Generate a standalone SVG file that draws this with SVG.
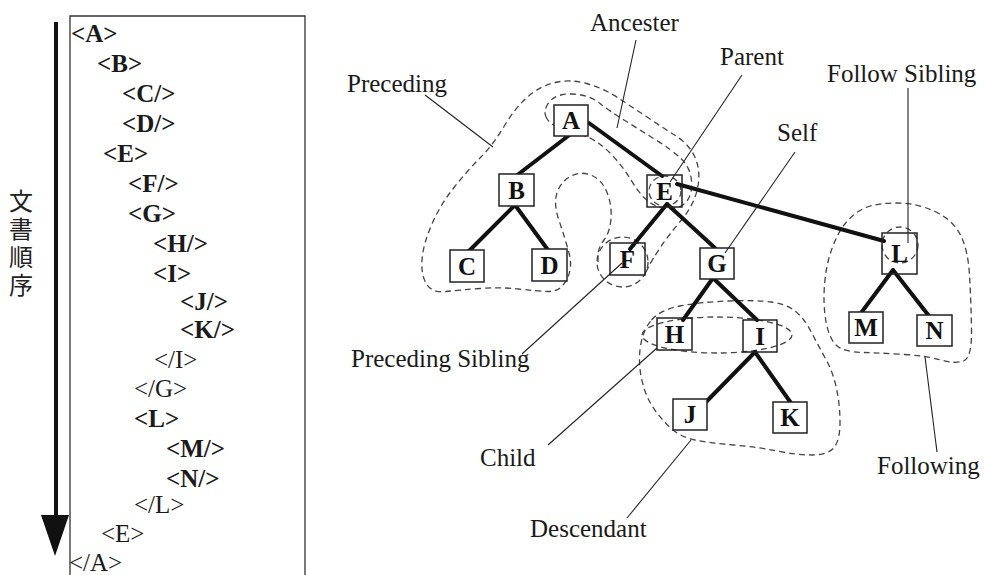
<svg xmlns="http://www.w3.org/2000/svg" width="984" height="575" viewBox="0 0 984 575">
  <style>
    .doc { font-family: "Liberation Serif", "Times New Roman", serif; font-size: 25px; fill: #1a1a1a; }
    .b { font-weight: bold; }
    .cjk { font-family: "Noto Sans CJK JP", "Noto Sans CJK SC", sans-serif; font-size: 24px; fill: #222; writing-mode: vertical-rl; letter-spacing: 4px; }
    .lbl { font-family: "Liberation Serif", "Times New Roman", serif; font-size: 25px; fill: #1a1a1a; }
    .box { fill: #fff; stroke: #222; stroke-width: 1.5; }
    .nt { font-family: "Liberation Serif", "Times New Roman", serif; font-size: 25px; font-weight: bold; fill: #111; text-anchor: middle; }
    .edge { stroke: #111; stroke-width: 4; stroke-linecap: round; fill: none; }
    .axis { fill: none; stroke: #444; stroke-width: 1.3; stroke-dasharray: 6 4; }
    .lead { stroke: #222; stroke-width: 1.1; fill: none; }
  </style>

  <!-- document order panel -->
  <g id="document-order">
    <path d="M70,575 V16 H305 V575" fill="none" stroke="#333" stroke-width="1.3"/>
    <line x1="56" y1="22" x2="56" y2="520" stroke="#111" stroke-width="4"/>
    <polygon points="41,515 69,515 55,556" fill="#111"/>
    <text class="cjk" x="21" y="189">文書順序</text>
    <text class="doc b" x="71" y="42">&lt;A&gt;</text>
    <text class="doc b" x="97" y="72">&lt;B&gt;</text>
    <text class="doc b" x="122" y="102">&lt;C/&gt;</text>
    <text class="doc b" x="122" y="132">&lt;D/&gt;</text>
    <text class="doc b" x="103" y="162">&lt;E&gt;</text>
    <text class="doc b" x="128" y="192">&lt;F/&gt;</text>
    <text class="doc b" x="128" y="222">&lt;G&gt;</text>
    <text class="doc b" x="153" y="252">&lt;H/&gt;</text>
    <text class="doc b" x="153" y="282">&lt;I&gt;</text>
    <text class="doc b" x="180" y="310">&lt;J/&gt;</text>
    <text class="doc b" x="180" y="338">&lt;K/&gt;</text>
    <text class="doc" x="154" y="368">&lt;/I&gt;</text>
    <text class="doc" x="134" y="397">&lt;/G&gt;</text>
    <text class="doc b" x="134" y="427">&lt;L&gt;</text>
    <text class="doc b" x="166" y="457">&lt;M/&gt;</text>
    <text class="doc b" x="166" y="487">&lt;N/&gt;</text>
    <text class="doc" x="134" y="513">&lt;/L&gt;</text>
    <text class="doc" x="101" y="542">&lt;E&gt;</text>
    <text class="doc" x="69" y="571">&lt;/A&gt;</text>
  </g>

  <!-- axis regions (dashed outlines) -->
  <g id="regions">
    <path id="preceding-region" class="axis" d="M598,262 L598,255 Q598,248 604,240 Q610,232 611,218.5 Q612,205 607,192.5 Q602,180 592,175.5 Q582,171 572,175.5 Q562,180 557.5,191.5 Q553,203 559,220.5 Q565,238 569,253 Q573,268 566.5,280 Q560,292 548.5,291.5 Q537,291 518.5,289 Q500,287 480,288.5 Q460,290 446,291.5 Q432,293 426.5,284 Q421,275 422,260 Q423,245 431.5,225 Q440,205 454,187.5 Q468,170 480.5,157.5 Q493,145 504,126.5 Q515,108 527.5,97 Q540,86 555,82.5 Q570,79 586.5,83.5 Q603,88 617.5,97.5 Q632,107 647,117 Q662,127 676,136 Q690,145 695.5,158.5 Q701,172 697.5,188.5 Q694,205 681,220.5 Q668,236 660,248 Q652,260 649,266 L646,272"/>
    <ellipse id="preceding-sibling-region" class="axis" cx="622.5" cy="262" rx="25.5" ry="25"/>
    <path id="ancestor-region" class="axis" d="M546.5,118 Q543,112 547.5,104.5 Q552,97 561,95 Q570,93 581,95 Q592,97 600,103.5 Q608,110 624,120 Q640,130 656,140 Q672,150 680.5,158 Q689,166 691,177 Q693,188 689.5,196.5 Q686,205 677,207.5 Q668,210 659,207 Q650,204 643.5,197 Q637,190 631,180 Q625,170 616.5,160 Q608,150 599,143.5 Q590,137 577.5,133.5 Q565,130 557.5,127 Q550,124 546.5,118 Z"/>
    <ellipse id="parent-region" class="axis" cx="665" cy="191" rx="16" ry="15"/>
    <ellipse id="child-region" class="axis" cx="717" cy="335" rx="75" ry="18"/>
    <path id="descendant-region" class="axis" d="M651.5,320 Q660,310 680,306 Q700,302 728.5,301 Q757,300 771.5,302 Q786,304 795,311 Q804,318 811,331.5 Q818,345 825.5,358.5 Q833,372 836.5,388.5 Q840,405 840,422.5 Q840,440 834,447.5 Q828,455 812.5,455 Q797,455 777,451 Q757,447 733.5,445 Q710,443 695,440 Q680,437 670,427.5 Q660,418 652.5,406.5 Q645,395 641.5,378.5 Q638,362 640.5,346 Q643,330 651.5,320 Z"/>
    <ellipse id="following-sibling-region" class="axis" cx="900" cy="245" rx="18" ry="18"/>
    <path id="following-region" class="axis" d="M866,207.5 Q877,203 897,203 Q917,203 935,211.5 Q953,220 960.5,235 Q968,250 969.5,275 Q971,300 971.5,329 Q972,358 963.5,361 Q955,364 941,360 Q927,356 905,354.5 Q883,353 863,352.5 Q843,352 836,345 Q829,338 826,321.5 Q823,305 824.5,285 Q826,265 832,248.5 Q838,232 846.5,222 Q855,212 866,207.5 Z"/>
  </g>

  <!-- tree edges -->
  <g id="connectors">
    <line class="edge" x1="572" y1="133" x2="516" y2="176"/>
    <line class="edge" x1="589" y1="123" x2="662" y2="176"/>
    <line class="edge" x1="515" y1="205" x2="469" y2="251"/>
    <line class="edge" x1="515" y1="205" x2="548" y2="250"/>
    <line class="edge" x1="667" y1="204" x2="630" y2="249"/>
    <line class="edge" x1="667" y1="204" x2="715" y2="248"/>
    <line class="edge" x1="677" y1="184" x2="884" y2="241"/>
    <line class="edge" x1="713" y1="278" x2="683" y2="320"/>
    <line class="edge" x1="713" y1="278" x2="757" y2="320"/>
    <line class="edge" x1="755" y1="352" x2="706" y2="402"/>
    <line class="edge" x1="755" y1="352" x2="791" y2="403"/>
    <line class="edge" x1="893" y1="270" x2="861" y2="313"/>
    <line class="edge" x1="893" y1="270" x2="929" y2="316"/>
  </g>

  <!-- tree nodes -->
  <g id="node-A"><rect class="box" x="554" y="105" width="34" height="31"/><text class="nt" x="571" y="129">A</text></g>
  <g id="node-B"><rect class="box" x="499" y="174" width="35" height="32"/><text class="nt" x="516.5" y="199">B</text></g>
  <g id="node-C"><rect class="box" x="450" y="250" width="34" height="32"/><text class="nt" x="467" y="275">C</text></g>
  <g id="node-D"><rect class="box" x="532" y="249" width="35" height="32"/><text class="nt" x="549.5" y="274">D</text></g>
  <g id="node-E"><rect class="box" x="647" y="175" width="35" height="32" fill-opacity="0"/><text class="nt" x="664.5" y="200">E</text></g>
  <g id="node-F"><rect class="box" x="610" y="243" width="35" height="32" fill-opacity="0"/><text class="nt" x="627.5" y="268">F</text></g>
  <g id="node-G"><rect class="box" x="700" y="248" width="34" height="31"/><text class="nt" x="717" y="272">G</text></g>
  <g id="node-H"><rect class="box" x="657" y="318" width="35" height="32" fill-opacity="0"/><text class="nt" x="674.5" y="343">H</text></g>
  <g id="node-I"><rect class="box" x="743" y="320" width="34" height="32" fill-opacity="0"/><text class="nt" x="760" y="345">I</text></g>
  <g id="node-J"><rect class="box" x="673" y="399" width="34" height="31"/><text class="nt" x="690" y="423">J</text></g>
  <g id="node-K"><rect class="box" x="773" y="402" width="34" height="31"/><text class="nt" x="790" y="426">K</text></g>
  <g id="node-L"><rect class="box" x="882" y="233" width="35" height="41" fill-opacity="0"/><text class="nt" x="899.5" y="262">L</text></g>
  <g id="node-M"><rect class="box" x="849" y="312" width="34" height="31"/><text class="nt" x="866" y="336">M</text></g>
  <g id="node-N"><rect class="box" x="917" y="315" width="35" height="31"/><text class="nt" x="934.5" y="339">N</text></g>

  <!-- axis labels with leader lines -->
  <g id="labels">
    <line class="lead" x1="425" y1="95" x2="493" y2="147"/>
    <line class="lead" x1="636" y1="40" x2="617" y2="128"/>
    <line class="lead" x1="742" y1="75" x2="670" y2="182"/>
    <line class="lead" x1="795" y1="152" x2="725" y2="253"/>
    <line class="lead" x1="908" y1="88" x2="908" y2="243"/>
    <line class="lead" x1="522" y1="354" x2="622" y2="263"/>
    <line class="lead" x1="548" y1="445" x2="657" y2="348"/>
    <line class="lead" x1="627" y1="518" x2="691" y2="440"/>
    <line class="lead" x1="937" y1="452" x2="925" y2="357"/>
    <text class="lbl" x="347" y="92">Preceding</text>
    <text class="lbl" x="590" y="31">Ancester</text>
    <text class="lbl" x="720" y="65">Parent</text>
    <text class="lbl" x="777" y="141">Self</text>
    <text class="lbl" x="827" y="82">Follow Sibling</text>
    <text class="lbl" x="351" y="367">Preceding Sibling</text>
    <text class="lbl" x="480" y="466">Child</text>
    <text class="lbl" x="530" y="537">Descendant</text>
    <text class="lbl" x="877" y="474">Following</text>
  </g>
</svg>
